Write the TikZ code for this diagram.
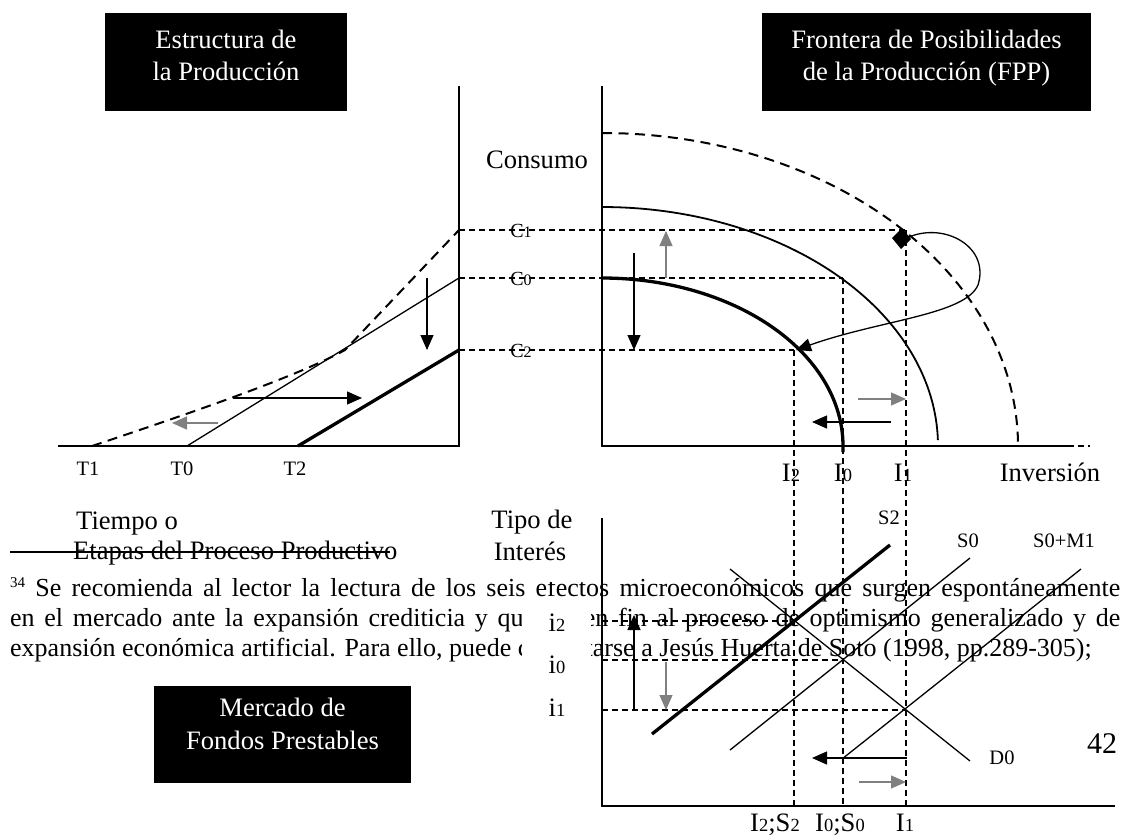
\documentclass[tikz,border=0pt]{standalone}
\usepackage{fontspec}
\setmainfont{Liberation Serif}
\usetikzlibrary{arrows.meta}
\definecolor{arrgray}{RGB}{128,128,128}
\newcommand\fzA{\fontsize{26.6}{30}\selectfont}
\newcommand\fzF{\fontsize{26}{30}\selectfont}
\newcommand\fzB{\fontsize{20.5}{24}\selectfont}
\newcommand\fzS{\fontsize{18.5}{20}\selectfont}
\newcommand\fzC{\fontsize{20}{22}\selectfont}
\newcommand\fzD{\fontsize{16}{18}\selectfont}
\newcommand\fzN{\fontsize{30}{34}\selectfont}
\newcommand\sublbl[2]{{\fzA #1}{\fzS #2}}
\newcommand\clbl[2]{{\fzC #1}{\fzD #2}}
\begin{document}
\begin{tikzpicture}[x=1pt,y=-1pt,
  axln/.style={line width=1.6pt},
  ln/.style={line width=1.3pt},
  midln/.style={line width=1.8pt},
  thickln/.style={line width=3.3pt},
  dashln/.style={line width=1.2pt, dash pattern=on 6pt off 4pt},
  bigdash/.style={line width=2pt, dash pattern=on 10pt off 6.5pt},
  arr/.style={line width=1.3pt, -{Triangle[length=15pt,width=13pt]}},
  garr/.style={arr, arrgray},
  txt/.style={inner sep=0pt, anchor=base, font=\fzA},
  ftxt/.style={inner sep=0pt, anchor=base west, font=\fzF},
  stxt/.style={inner sep=0pt, anchor=base, font=\fzB},
  boxtxt/.style={txt, text=white},
  wbox/.style={fill=white, draw=none},
  bbox/.style={fill=black, draw=none}
]
\useasboundingbox (0,0) rectangle (1126,837);

% ---------------- footnote text (behind the drawing)
\node[ftxt] (fn1) at (10,596) {\makebox[1110pt][s]{{\fontsize{15}{15}\selectfont\raisebox{9pt}{34}} Se recomienda al lector la lectura de los seis efectos microeconómicos que surgen espontáneamente}};
\node[ftxt] (fn2) at (10,626) {\makebox[1110pt][s]{en el mercado ante la expansión crediticia y que ponen fin al proceso de optimismo generalizado y de}};
\node[ftxt] (fn3) at (10,656) {expansión económica artificial. Para ello, puede consultarse a Jesús Huerta de Soto (1998, pp.289-305);};
\draw[ln] (10,552) -- (390,552);

% white masks of the label boxes
\fill[wbox] (526,562) rectangle (591,582);
\fill[wbox] (522,600) rectangle (591,722);

% ---------------- title boxes
\fill[bbox] (105,13) rectangle (347,111);
\node[boxtxt] (b1a) at (226,48.5) {Estructura de};
\node[boxtxt] (b1b) at (226,80.5) {la Producción};
\fill[bbox] (762,13) rectangle (1091,111);
\node[boxtxt] (b2a) at (926.5,48.5) {Frontera de Posibilidades};
\node[boxtxt] (b2b) at (926.5,80.5) {de la Producción (FPP)};
\fill[bbox] (154,686) rectangle (411,783);
\node[boxtxt] (b3a) at (282.5,716) {Mercado de};
\node[boxtxt] (b3b) at (282.5,749) {Fondos Prestables};

% ---------------- left panel: estructura de la produccion
\draw[axln] (58,446) -- (459,446) -- (459,86);
\draw[bigdash] (92,446) .. controls (200,410) and (300,375) .. (345,350) -- (459,230);
\draw[ln] (187,446) -- (459,278);
\draw[thickln] (298,446) -- (459,350);
\draw[arr] (427,278) -- (427,350);
\draw[arr] (233,398) -- (362,398);
\draw[garr] (218,423) -- (172,423);
\node[stxt] (T1) at (88,475) {T1};
\node[stxt] (T0) at (182,475) {T0};
\node[stxt] (T2) at (295,475) {T2};
\node[txt, anchor=base west] (tiempo) at (76,529) {Tiempo o};
\node[txt, anchor=base west] (etapas) at (73,559) {Etapas del Proceso Productivo};

% ---------------- dashed guide lines
\draw[dashln] (459,230) -- (906,230);
\draw[dashln] (459,278) -- (843,278);
\draw[dashln] (459,350) -- (794,350);
\draw[dashln] (906,230) -- (906,806);
\draw[dashln] (843,278) -- (843,806);
\draw[dashln] (794,350) -- (794,806);
\node[txt] (C1) at (521,237) {\clbl{C}{1}};
\node[txt] (C0) at (521,285) {\clbl{C}{0}};
\node[txt] (C2) at (521,357) {\clbl{C}{2}};

% ---------------- FPP panel
\draw[axln] (602,86) -- (602,446) -- (1068,446);
\draw[dashln] (1068,446) -- (1090,446);
\draw[bigdash] plot[domain=90:0.5, samples=60, smooth] ({602+416*cos(\x)},{446-313*sin(\x)});
\draw[midln] plot[domain=90:1.4, samples=60, smooth] ({602+336*cos(\x)},{446-239*sin(\x)});
\draw[thickln] plot[domain=90:0, samples=60, smooth] ({602+241*cos(\x)},{446-168*sin(\x)}) -- (843,452);
\coordinate (e2) at (796,350);
\fill (902,228) -- (911,239) -- (901,249) -- (892,238) -- cycle;
\coordinate (dm) at (909,237);
\draw[arr] (dm) .. controls (945,222) and (990,247) .. (978,285) .. controls (965,315) and (880,320) .. (e2);
\draw[garr] (666,278) -- (666,231);
\draw[arr] (634,253) -- (634,350);
\draw[garr] (858,399) -- (906,399);
\draw[arr] (891,422) -- (812,422);
\node[txt] (cons) at (537,168.5) {Consumo};
\node[txt] (I2) at (791,481.5) {\sublbl{I}{2}};
\node[txt] (I0) at (843,481.5) {\sublbl{I}{0}};
\node[txt] (I1) at (903,481.5) {\sublbl{I}{1}};
\node[txt] (inv) at (1050,481.5) {Inversión};

% ---------------- loanable funds panel
\draw[axln] (602,518) -- (602,806) -- (1115,806);
\draw[dashln] (602,621) -- (794,621);
\draw[dashln] (602,660) -- (843,660);
\draw[dashln] (602,710) -- (906,710);
\draw[thickln] (652,734) -- (890,545);
\draw[ln] (730,750) -- (970,558);
\draw[ln] (842,759) -- (1081,569);
\draw[ln] (730,569) -- (970,761);
\draw[arr] (634,710) -- (634,615);
\draw[garr] (666,662) -- (666,710);
\draw[arr] (907,758) -- (812,758);
\draw[garr] (859,782) -- (906,782);
\node[txt] (tipo1) at (532,528.5) {Tipo de};
\node[txt] (tipo2) at (530,560.5) {Interés};
\node[txt] (i2) at (557,631.5) {\sublbl{i}{2}};
\node[txt] (i0) at (557,673.5) {\sublbl{i}{0}};
\node[txt] (i1) at (557,716.5) {\sublbl{i}{1}};
\node[stxt] (S2) at (889,524) {S2};
\node[stxt] (S0) at (968,547) {S0};
\node[stxt] (S0M1) at (1064,547) {S0+M1};
\node[stxt] (D0) at (1002,764) {D0};
\node[txt] (x2) at (775,831) {\sublbl{I}{2}\sublbl{;S}{2}};
\node[txt] (x0) at (840,831) {\sublbl{I}{0}\sublbl{;S}{0}};
\node[txt] (x1) at (905,831) {\sublbl{I}{1}};
\node[txt, font=\fzN] (pg) at (1102,753) {42};
\end{tikzpicture}
\end{document}
